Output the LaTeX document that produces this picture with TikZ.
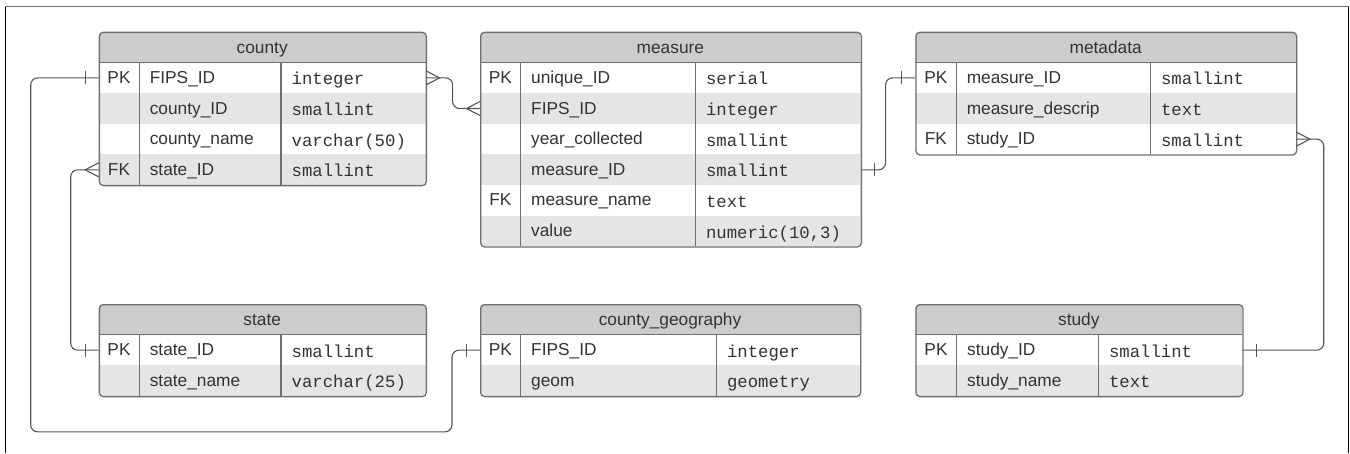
\documentclass[tikz,border=0pt]{standalone}
\usepackage{fontspec}
\setmainfont{Liberation Sans}
\setmonofont{Liberation Mono}
\usetikzlibrary{calc}

\definecolor{ink}{HTML}{333333}
\definecolor{edge}{HTML}{6F6F6F}
\definecolor{wire}{HTML}{555555}
\definecolor{headfill}{HTML}{CCCCCC}
\definecolor{stripe}{HTML}{E5E5E5}

\tikzset{
  rowcell/.style={minimum width=#1, minimum height=30.65pt, inner sep=0pt, anchor=north west},
  tablebox/.style 2 args={draw=edge, line width=1.3pt, rounded corners=4pt,
    minimum width=#1, minimum height=#2, inner sep=0pt, anchor=north west},
  celltext/.style={inner sep=0pt, text=ink, font=\fontsize{17.3}{20}\selectfont},
  keytext/.style={celltext, anchor=base},
  nametext/.style={celltext, anchor=base west},
  typetext/.style={celltext, anchor=base west, font=\fontsize{17.3}{20}\ttfamily},
  titletext/.style={celltext, anchor=base},
  divider/.style={draw=edge, line width=1.2pt},
  link/.style={draw=wire, line width=1.1pt, rounded corners=7pt},
  endstroke/.style={draw=wire, line width=1.1pt},
  manyfoot/.pic={\draw[endstroke] (0,-7) -- (13.5,0) -- (0,7);},
  onebar/.pic={\draw[endstroke] (13.5,-6.5) -- (13.5,6.5);},
}

% #1 name, #2 left, #3 top, #4 width, #5 key column width,
% #6 type column offset, #7 title, #8 number of rows, #9 rows key/name/type
\newcommand\erdtable[9]{%
  \pgfmathsetmacro\tabbottom{#3+30.65*(#8+1)}
  \begin{scope}
    \clip[rounded corners=4pt] (#2,#3) rectangle (#2+#4,\tabbottom);
    \fill[headfill] (#2,#3) rectangle (#2+#4,#3+30.65);
    \fill[white] (#2,#3+30.65) rectangle (#2+#4,\tabbottom);
    \foreach \fkey/\fname/\ftype [count=\ri] in {#9}{
      \pgfmathsetmacro\rowtop{#3+30.65*\ri}
      \ifodd\ri\else
        \fill[stripe] (#2,\rowtop) rectangle (#2+#4,\rowtop+30.65);
      \fi
      \node[rowcell=#4pt] (#1-\ri) at (#2,\rowtop) {};
      \node[keytext] (#1-\ri-key) at (#2+#5/2,\rowtop+21) {\fkey};
      \node[nametext] (#1-\ri-name) at (#2+#5+10.3,\rowtop+21) {\fname};
      \node[typetext] (#1-\ri-type) at (#2+#6+10.5,\rowtop+22.5) {\ftype};
    }
  \end{scope}
  \draw[divider] (#2,#3+30.65) -- (#2+#4,#3+30.65);
  \draw[divider] (#2+#5,#3+30.65) -- (#2+#5,\tabbottom);
  \draw[divider] (#2+#6,#3+30.65) -- (#2+#6,\tabbottom);
  \node[titletext] (#1-title) at (#2+#4/2,#3+21.6) {#7};
  \node[tablebox={#4pt}{\tabbottom pt-#3pt}] (#1) at (#2,#3) {};
}

\begin{document}
\begin{tikzpicture}[x=1pt,y=-1pt]
  \useasboundingbox (0,0) rectangle (1350,453);

  % page frame
  \draw[black, line width=1pt] (5.3,453) -- (5.3,6.3);
  \draw[black, line width=1pt] (1348.3,6.3) -- (1348.3,453);
  \draw[edge, line width=1.6pt] (4.8,6.3) -- (1348.8,6.3);

  % tables
  \erdtable{county}{98.7}{31.7}{327}{40.6}{182.3}{county}{4}{%
    PK/FIPS\_ID/integer, /county\_ID/smallint, /county\_name/varchar(50), FK/state\_ID/smallint}
  \erdtable{measure}{480}{31.7}{380.7}{40.7}{215.3}{measure}{6}{%
    PK/unique\_ID/serial, /FIPS\_ID/integer, /year\_collected/smallint,
    /measure\_ID/smallint, FK/measure\_name/text, /value/{numeric(10,3)}}
  \erdtable{metadata}{915.3}{31.7}{380.7}{41}{235}{metadata}{3}{%
    PK/measure\_ID/smallint, /measure\_descrip/text, FK/study\_ID/smallint}
  \erdtable{state}{98.7}{304}{327}{40.6}{182.3}{state}{2}{%
    PK/state\_ID/smallint, /state\_name/varchar(25)}
  \erdtable{geo}{480}{304}{380}{40.7}{236.3}{county\_geography}{2}{%
    PK/FIPS\_ID/integer, /geom/geometry}
  \erdtable{study}{915.3}{304}{327}{41.4}{183}{study}{2}{%
    PK/study\_ID/smallint, /study\_name/text}

  % relationships
  \draw[link] (county-1.east) -- ++(26.5,0) |- (measure-2.west);
  \pic at (county-1.east) {manyfoot};
  \pic[xscale=-1] at (measure-2.west) {manyfoot};

  \draw[link] (measure-4.east) -- ++(24.5,0) |- (metadata-1.west);
  \pic at (measure-4.east) {onebar};
  \pic[xscale=-1] at (metadata-1.west) {onebar};

  \draw[link] (metadata-3.east) -- ++(27.3,0) |- (study-1.east);
  \pic at (metadata-3.east) {manyfoot};
  \pic at (study-1.east) {onebar};

  \draw[link] (county-4.west) -- ++(-28,0) |- (state-1.west);
  \pic[xscale=-1] at (county-4.west) {manyfoot};
  \pic[xscale=-1] at (state-1.west) {onebar};

  \draw[link] (county-1.west) -- ++(-68,0) -- ++(0,354)
    -| ([xshift=-28pt]geo-1.west) -- (geo-1.west);
  \pic[xscale=-1] at (county-1.west) {onebar};
  \pic[xscale=-1] at (geo-1.west) {onebar};
\end{tikzpicture}
\end{document}
